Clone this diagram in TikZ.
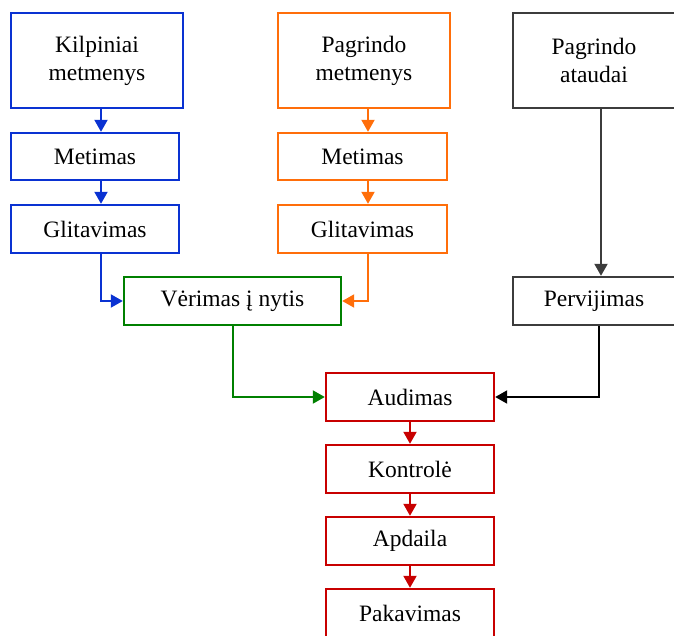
\documentclass[tikz,border=0pt]{standalone}
\usepackage{fontspec}
\setmainfont{Liberation Serif}
\usetikzlibrary{arrows.meta}
\definecolor{cblue}{RGB}{10,50,210}
\definecolor{corange}{RGB}{255,110,10}
\definecolor{cgreen}{RGB}{0,128,0}
\definecolor{cred}{RGB}{200,0,0}
\definecolor{cgray}{RGB}{60,60,60}
\tikzset{
  box/.style={draw, line width=2.4pt, rectangle, inner sep=0pt, fill=white,
    align=center, font=\fontsize{23.5}{28}\selectfont},
  arr/.style={line width=2pt, -{Triangle[length=12pt,width=13pt]}},
}
\begin{document}
\begin{tikzpicture}[x=1pt,y=-1pt]
\useasboundingbox (0,0) rectangle (674,635);
% column guides for the vertical connectors
\coordinate (bx) at (101,0);
\coordinate (ox) at (368,0);
\coordinate (gx) at (601,0);
\coordinate (px) at (599,0);
% warp beam (blue)
\node[box, draw=cblue, minimum width=172pt, minimum height=95pt] (km) at (97,60.5) {Kilpiniai\\metmenys};
\node[box, draw=cblue, minimum width=168pt, minimum height=47pt] (bm) at (95,156.5) {Metimas};
\node[box, draw=cblue, minimum width=168pt, minimum height=48pt] (bg) at (95,229) {Glitavimas};
% ground warp (orange)
\node[box, draw=corange, minimum width=172pt, minimum height=95pt] (pm) at (364,60.5) {Pagrindo\\metmenys};
\node[box, draw=corange, minimum width=169pt, minimum height=47pt] (om) at (362.5,156.5) {Metimas};
\node[box, draw=corange, minimum width=169pt, minimum height=48pt] (og) at (362.5,229) {Glitavimas};
% weft (gray)
\node[box, draw=cgray, minimum width=162pt, minimum height=95pt] (pa) at (594,60.5) {Pagrindo\\ataudai};
\node[box, draw=cgray, minimum width=162pt, minimum height=48pt] (pv) at (594,301) {Pervijimas};
% drawing-in (green)
\node[box, draw=cgreen, minimum width=217pt, minimum height=48pt] (ver) at (232.5,301) {Vėrimas į nytis};
% weaving and finishing (red)
\node[box, draw=cred, minimum width=168pt, minimum height=48pt] (aud) at (410,397) {Audimas};
\node[box, draw=cred, minimum width=168pt, minimum height=48pt] (kon) at (410,469) {Kontrolė};
\node[box, draw=cred, minimum width=168pt, minimum height=48pt] (apd) at (410,541) {Apdaila};
\node[box, draw=cred, minimum width=168pt, minimum height=48pt] (pak) at (410,613) {Pakavimas};
% connectors
\draw[arr, cblue] (km.south -| bx) -- (bm.north -| bx);
\draw[arr, cblue] (bm.south -| bx) -- (bg.north -| bx);
\draw[arr, cblue] (bg.south -| bx) |- (ver.west);
\draw[arr, corange] (pm.south -| ox) -- (om.north -| ox);
\draw[arr, corange] (om.south -| ox) -- (og.north -| ox);
\draw[arr, corange] (og.south -| ox) |- (ver.east);
\draw[arr, cgray] (pa.south -| gx) -- (pv.north -| gx);
\draw[arr, cgreen] (ver.south) |- (aud.west);
\draw[arr, black] (pv.south -| px) |- (aud.east);
\draw[arr, cred] (aud) -- (kon);
\draw[arr, cred] (kon) -- (apd);
\draw[arr, cred] (apd) -- (pak);
\end{tikzpicture}
\end{document}
